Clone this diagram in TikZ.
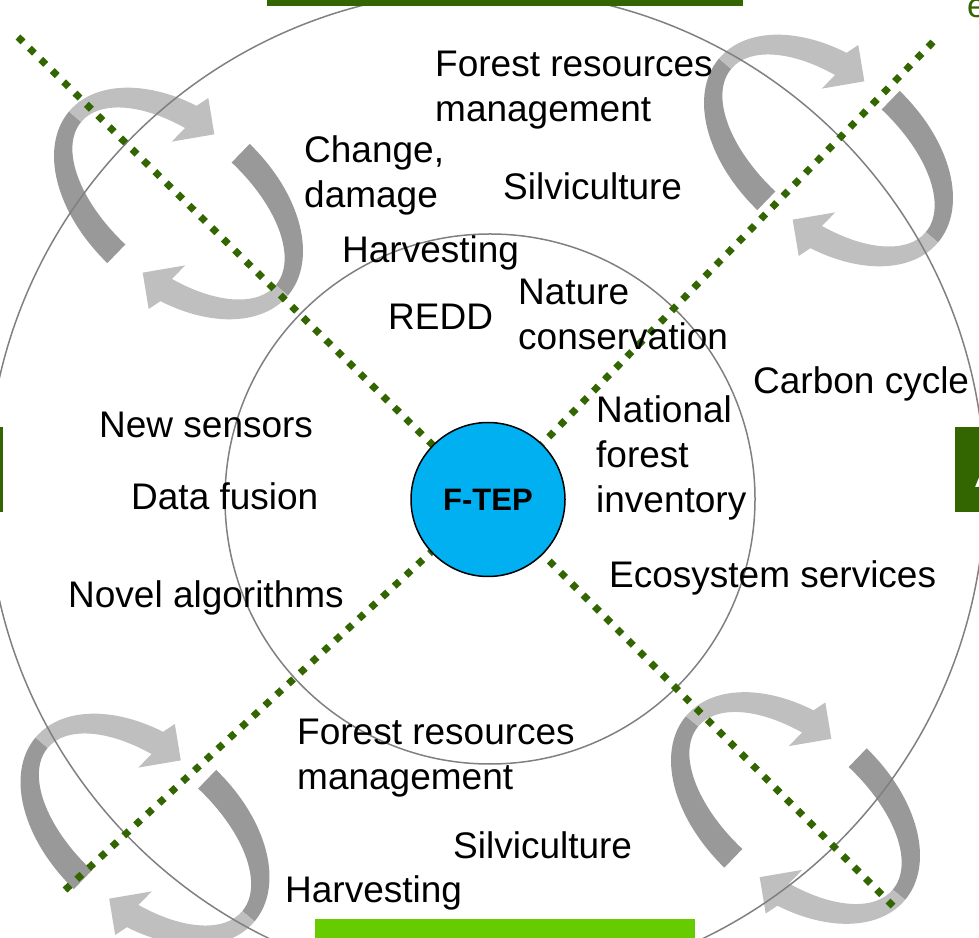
\documentclass[tikz,border=0pt]{standalone}
\usepackage{fontspec}
\setmainfont{Liberation Sans}
\usepackage{tikz}
\definecolor{leafgreen}{RGB}{51,102,0}
\definecolor{limegreen}{RGB}{102,204,0}
\definecolor{ftepblue}{RGB}{0,176,240}
\definecolor{ringgray}{RGB}{128,128,128}
\definecolor{lightarrow}{RGB}{191,191,191}
\definecolor{darkarrow}{RGB}{153,153,153}
\tikzstyle{topic} = [anchor=base west, inner sep=0pt, align=left, font=\fontsize{37}{45}\selectfont]
\tikzstyle{core} = [circle, draw=black, line width=1.5pt, fill=ftepblue, minimum size=154pt, inner sep=0pt,
                    font=\bfseries\fontsize{31}{37}\selectfont]
\tikzstyle{ring} = [circle, draw=ringgray, line width=1.5pt, inner sep=0pt]
\tikzstyle{divider} = [draw=leafgreen, line width=7pt, dash pattern=on 7pt off 9pt]
\tikzstyle{lightband} = [fill=lightarrow]
\tikzstyle{darkband} = [fill=darkarrow]
\pgfdeclarelayer{back}
\pgfsetlayers{back,main}
\newcommand{\cyclearrows}[1]{%
  \begin{scope}[shift={#1}, rotate=-40]
    \fill[darkband] (83.5:143 and 92) arc[start angle=83.5, end angle=0, x radius=143, y radius=92]
      -- (0:127 and 66) arc[start angle=0, end angle=83.5, x radius=127, y radius=66] -- cycle;
    \fill[darkband] (263.5:143 and 92) arc[start angle=263.5, end angle=180, x radius=143, y radius=92]
      -- (180:127 and 66) arc[start angle=180, end angle=263.5, x radius=127, y radius=66] -- cycle;
    \fill[lightband] (180:143 and 92) arc[start angle=180, end angle=110, x radius=143, y radius=92]
      -- (-45, 100) -- (-17, 76) -- (-45, 43)
      -- (110:127 and 66) arc[start angle=110, end angle=180, x radius=127, y radius=66] -- cycle;
    \fill[lightband] (0:143 and 92) arc[start angle=0, end angle=-70, x radius=143, y radius=92]
      -- (45, -100) -- (17, -76) -- (45, -43)
      -- (-70:127 and 66) arc[start angle=-70, end angle=0, x radius=127, y radius=66] -- cycle;
  \end{scope}}

\begin{document}
\begin{tikzpicture}[x=1pt, y=1pt]
				\useasboundingbox (0, 0) rectangle (979, 937);

				\node (Core) [core] at (488, 437.5) {F-TEP};

				\coordinate (NW) at (18, 900);
				\coordinate (NE) at (933, 895);
				\coordinate (SW) at (65, 47);
				\coordinate (SE) at (893, 31);

				\begin{pgfonlayer}{back}
				\cyclearrows{(178.5, 733.5)}
				\cyclearrows{(828.5, 786.5)}
				\cyclearrows{(145, 107.5)}
				\cyclearrows{(795.5, 129)}

				\node (Outer) [ring, minimum size=998pt] at (486, 448) {};
				\node (Inner) [ring, minimum size=530pt] at (490, 438) {};

				\draw[divider] (NW) -- (Core);
				\draw[divider] (NE) -- (Core);
				\draw[divider] (SW) -- (Core);
				\draw[divider] (SE) -- (Core);
				\end{pgfonlayer}

				\fill[leafgreen] (267, 931) rectangle (743, 945);
				\fill[leafgreen] (-5, 425) rectangle (3, 510);
				\fill[leafgreen] (955, 425) rectangle (990, 510);
				\fill[limegreen] (315, -5) rectangle (695, 18);

				\node (Tab) [topic, text=white] at (975, 449) {A};
				\node (Title) [topic, text=leafgreen, font=\fontsize{34}{40}\selectfont] at (967, 919) {e};

				\node (ManageTop) [topic] at (435, 815) {Forest resources\\management};
				\node (Change) [topic] at (304, 729) {Change,\\damage};
				\node (SilviTop) [topic] at (503, 737) {Silviculture};
				\node (HarvestTop) [topic] at (342, 674) {Harvesting};
				\node (Redd) [topic] at (388, 607) {REDD};
				\node (Nature) [topic] at (518, 587) {Nature\\conservation};
				\node (Carbon) [topic] at (753, 543) {Carbon cycle};
				\node (Sensors) [topic] at (99, 499) {New sensors};
				\node (Inventory) [topic] at (596, 424) {National\\forest\\inventory};
				\node (Fusion) [topic] at (131, 427) {Data fusion};
				\node (Ecosystem) [topic] at (609, 349) {Ecosystem services};
				\node (Algorithms) [topic] at (68, 329) {Novel algorithms};
				\node (ManageBottom) [topic] at (297, 148) {Forest resources\\management};
				\node (SilviBottom) [topic] at (453, 79) {Silviculture};
				\node (HarvestBottom) [topic] at (285, 35) {Harvesting};
			\end{tikzpicture}
\end{document}
